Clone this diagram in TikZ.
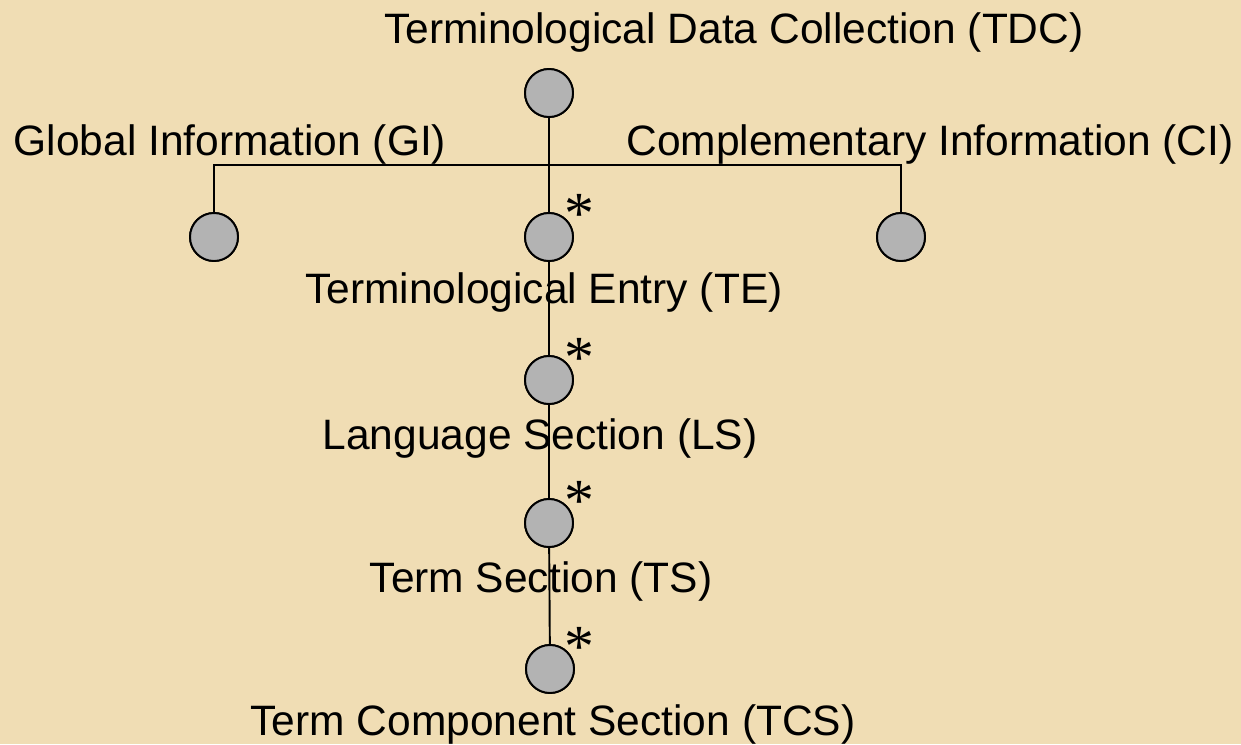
\documentclass[tikz,border=0pt]{standalone}
\usepackage{fontspec}
\setmainfont{Liberation Sans}
\newfontfamily\starfont{Liberation Serif}
\definecolor{parchment}{HTML}{F0DDB4}
\definecolor{dotgray}{HTML}{B3B3B3}
\begin{document}
\begin{tikzpicture}[x=0.02cm, y=-0.02cm, line width=1.1pt,
  dot/.style={circle, draw, fill=dotgray, minimum size=0.96cm, inner sep=0pt},
  lbl/.style={anchor=base, font=\fontsize{24.2}{28}\selectfont, inner sep=0pt},
  starmark/.style={font=\starfont\fontsize{34}{34}\selectfont, inner sep=0pt, anchor=center}]
\fill[parchment] (0,0) rectangle (1241,744);
\useasboundingbox (0,0) rectangle (1241,744);

\node[dot] (tdc) at (549,93){};
\node[dot] (gi) at (214,237){};
\node[dot] (te) at (549,237){};
\node[dot] (ci) at (901,237){};
\node[dot] (ls) at (549,380){};
\node[dot] (ts) at (549,523){};
\node[dot] (tcs) at (550,669){};

\coordinate (jn) at (549,165);

\draw[](tdc) -- (te);
\draw[](gi) |- (jn) -| (ci);
\draw[](te) -- (ls);
\draw[](ls) -- (ts);
\draw[](ts) -- (tcs);

% redraw the dots over the lines
\foreach \n in {tdc,gi,te,ci,ls,ts,tcs}
  \draw[fill=dotgray] (\n) circle (0.48cm);

\node[lbl] (tdclbl) at (734,43){Terminological Data Collection (TDC)};
\node[lbl] (gilbl) at (230,155){Global Information (GI)};
\node[lbl] (cilbl) at (930,155){Complementary Information (CI)};
\node[lbl] (telbl) at (544,303){Terminological Entry (TE)};
\node[lbl] (lslbl) at (540,449){Language Section (LS)};
\node[lbl] (tslbl) at (541,592){Term Section (TS)};
\node[lbl] (tcslbl) at (553,735){Term Component Section (TCS)};

\node[starmark] (testar) at (579,214){*};
\node[starmark] (lsstar) at (579,358){*};
\node[starmark] (tsstar) at (579,501){*};
\node[starmark] (tcsstar) at (579,647){*};

\end{tikzpicture}
\end{document}
